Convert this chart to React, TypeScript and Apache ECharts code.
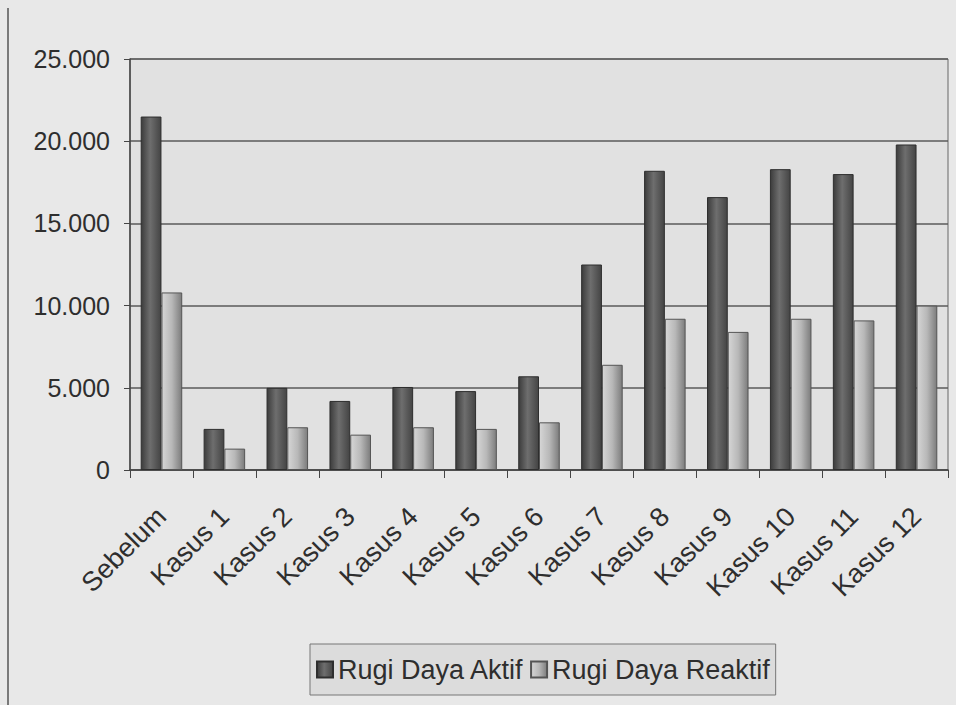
import React, { useEffect, useRef } from "react";
import * as echarts from "echarts";

const categories = [
  "Sebelum", "Kasus 1", "Kasus 2", "Kasus 3", "Kasus 4", "Kasus 5", "Kasus 6",
  "Kasus 7", "Kasus 8", "Kasus 9", "Kasus 10", "Kasus 11", "Kasus 12",
];
const rugiAktif = [21500, 2500, 5000, 4200, 5050, 4800, 5700, 12500, 18200, 16600, 18300, 18000, 19800];
const rugiReaktif = [10800, 1300, 2600, 2150, 2600, 2500, 2900, 6400, 9200, 8400, 9200, 9100, 10000];
const seriesNames = ["Rugi Daya Aktif", "Rugi Daya Reaktif"];
const yMax = 25000;
const yStep = 5000;

const FONT = "'Liberation Sans', Arial, sans-serif";

function fmt(v: number): string {
  return String(Math.round(v)).replace(/\B(?=(\d{3})+(?!\d))/g, ".");
}

export default function App() {
  const ref = useRef<HTMLDivElement>(null);
  useEffect(() => {
    if (!ref.current) return;
    const chart = echarts.init(ref.current, null, { renderer: "svg" });
    const darkGrad = new echarts.graphic.LinearGradient(0, 0, 1, 0, [
      { offset: 0, color: "#3c3c3c" },
      { offset: 0.45, color: "#6e6e6e" },
      { offset: 1, color: "#444444" },
    ]);
    const lightGrad = new echarts.graphic.LinearGradient(0, 0, 1, 0, [
      { offset: 0, color: "#d6d6d6" },
      { offset: 0.5, color: "#b8b8b8" },
      { offset: 1, color: "#7c7c7c" },
    ]);
    chart.setOption({
      animation: false,
      backgroundColor: "#e8e8e8",
      textStyle: { fontFamily: FONT },
      graphic: [
        {
          type: "line",
          shape: { x1: 8, y1: 8, x2: 8, y2: 705 },
          style: { stroke: "#555", lineWidth: 1.5 },
        },
      ],
      grid: {
        left: 130,
        right: 8,
        top: 59,
        bottom: 235,
        show: true,
        backgroundColor: "#e1e1e1",
        borderColor: "#666",
        borderWidth: 1,
      },
      legend: {
        data: seriesNames,
        bottom: 10,
        left: 310,
        orient: "horizontal",
        itemWidth: 16,
        itemHeight: 16,
        itemGap: 6,
        padding: [12, 6, 12, 6],
        borderColor: "#777",
        borderWidth: 1,
        backgroundColor: "#dcdcdc",
        textStyle: { fontSize: 27, color: "#2e2e2e", fontFamily: FONT },
        icon: "rect",
      },
      xAxis: {
        type: "category",
        data: categories,
        axisLine: { lineStyle: { color: "#444", width: 1.5 } },
        axisTick: { show: true, length: 8, lineStyle: { color: "#444" } },
        axisLabel: {
          rotate: 45,
          margin: 42,
          fontSize: 27,
          color: "#2e2e2e",
          fontFamily: FONT,
          interval: 0,
        },
      },
      yAxis: {
        type: "value",
        min: 0,
        max: yMax,
        interval: yStep,
        axisLine: { show: true, lineStyle: { color: "#444", width: 1.5 } },
        axisTick: { show: true, length: 6, lineStyle: { color: "#444" } },
        splitLine: { lineStyle: { color: "#5a5a5a", width: 1.5 } },
        axisLabel: {
          fontSize: 25,
          color: "#2e2e2e",
          margin: 20,
          fontFamily: FONT,
          formatter: (v: number) => fmt(v),
        },
      },
      series: [
        {
          name: seriesNames[0],
          type: "bar",
          data: rugiAktif,
          barGap: "0%",
          barCategoryGap: "34%",
          itemStyle: { color: darkGrad, borderColor: "#2e2e2e", borderWidth: 1 },
        },
        {
          name: seriesNames[1],
          type: "bar",
          data: rugiReaktif,
          itemStyle: { color: lightGrad, borderColor: "#555", borderWidth: 1 },
        },
      ],
    });
    return () => chart.dispose();
  }, []);
  return (
    <div
      ref={ref}
      style={{ position: "absolute", left: 0, top: 0, width: 956, height: 705 }}
    />
  );
}
